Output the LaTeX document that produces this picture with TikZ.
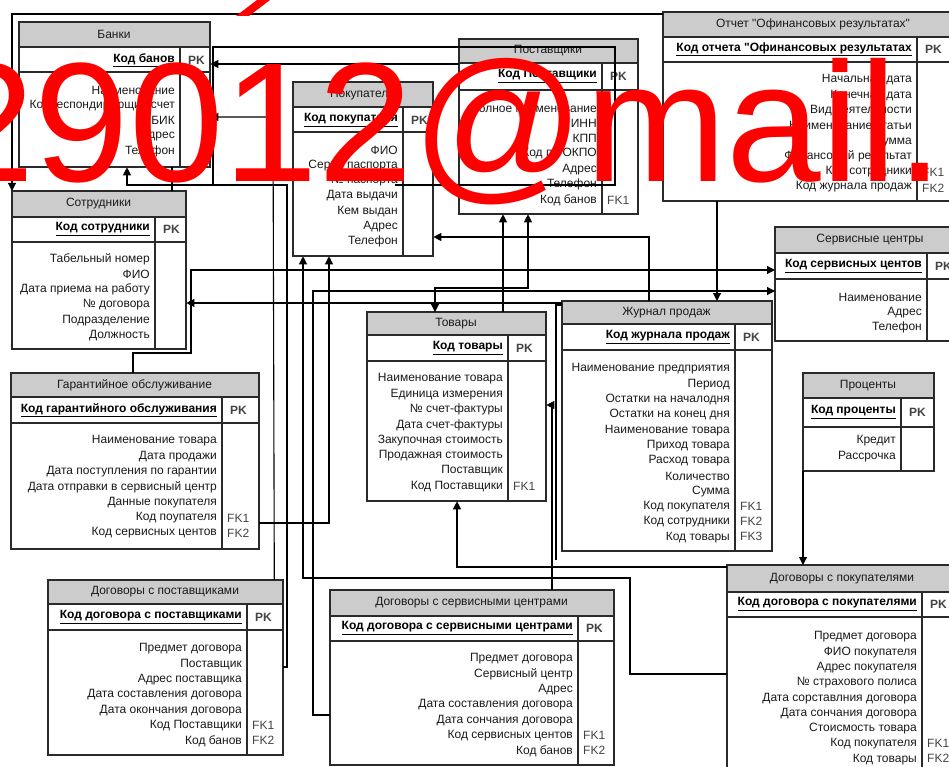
\documentclass[tikz,border=0pt]{standalone}
\usepackage{fontspec}
\setmainfont{Liberation Sans}
\usetikzlibrary{arrows.meta,calc}

\definecolor{hdrgray}{HTML}{CCCCCC}
\definecolor{framegray}{HTML}{2A2A2A}
\definecolor{markgray}{HTML}{444444}
\definecolor{txtgray}{HTML}{1A1A1A}

\tikzset{
  tbl/.style={draw=framegray, line width=1.3pt, fill=white, inner sep=0pt, anchor=north west},
  ttl/.style={font=\fontsize{12}{14}\selectfont, text=txtgray, inner sep=0pt},
  keytxt/.style={font=\bfseries\fontsize{12}{14}\selectfont, inner sep=0pt, anchor=east},
  attr/.style={font=\fontsize{12}{14}\selectfont, text=txtgray, inner sep=0pt, anchor=east},
  keymark/.style={font=\fontsize{12}{14}\selectfont, text=markgray, inner sep=0pt, anchor=west},
  rel/.style={draw, line width=1.1pt, -{Triangle[length=8pt,width=8pt]}},
  wire/.style={draw, line width=1.1pt},
}

% name, x, y, width, height, divider x, title height, key height, title
\newcommand{\ertable}[9]{%
  \node[tbl, minimum width=#4pt, minimum height=#5pt] (#1) at (#2,#3) {};
  \fill[hdrgray] (#2,#3) rectangle (#2+#4,#3+#7);
  \draw[framegray, line width=1.3pt] (#2,#3+#7) -- ++(#4,0) (#2,#3+#7+#8) -- ++(#4,0)
    (#6,#3+#7) -- (#6,#3+#5);
  \draw[framegray, line width=1.3pt] (#1.north west) rectangle (#1.south east);
  \node[ttl] (#1-t) at (#2+#4/2,#3+#7/2) {#9};
}
% name, divider x, y, key text
\newcommand{\erkey}[4]{%
  \node[keytxt] (#1-k) at (#2-5,#3) {\underline{#4}};
  \node[keymark, font=\bfseries\fontsize{12}{14}\selectfont] (#1-pk) at (#2+8,#3) {PK};
}
% name, divider x, first y, rows
\newcommand{\errows}[4]{%
  \foreach \t [count=\i from 0] in {#4}
    \node[attr] (#1-\i) at (#2-5,#3+\i*15.3) {\t};
}
% name, divider x, y, mark
\newcommand{\erfk}[4]{\node[keymark] (#1-#4) at (#2+5,#3) {#4};}

\begin{document}
\begin{tikzpicture}[x=1pt,y=-1pt]
  \useasboundingbox (0,0) rectangle (949,767);
  \clip (0,0) rectangle (949,767);

  % tables
  \ertable{bank}{19}{22}{190}{144}{180}{25}{25}{Банки}
  \erkey{bank}{180}{60}{Код банов}
  \errows{bank}{180}{90}{Наименование,Корреспондирующий счет,БИК,Адрес,Телефон}

  \ertable{pok}{293}{82}{139}{173}{403}{25}{25}{Покупатели}
  \erkey{pok}{403}{120}{Код покупателя}
  \errows{pok}{403}{150}{ФИО,Серия паспорта,№ паспорта,Дата выдачи,Кем выдан,Адрес,Телефон}

  \ertable{post}{459}{39}{178}{174}{602}{24}{27}{Поставщики}
  \erkey{post}{602}{76}{Код Поставщики}
  \errows{post}{602}{108}{Полное наименование,ИНН,КПП,Код по ОКПО,Адрес,Телефон,Код банов}
  \erfk{post}{602}{200}{FK1}

  \ertable{otchet}{663}{12}{300}{188}{917}{25}{25}{Отчет \textquotedbl Офинансовых результатах\textquotedbl}
  \erkey{otchet}{917}{49}{Код отчета \textquotedbl Офинансовых результатах}
  \errows{otchet}{917}{80}{Начальная дата,Конечная дата,Вид деятельности,Наименование статьи,Сумма,Финансовый результат,Код сотрудники,Код журнала продаж}
  \erfk{otchet}{917}{172}{FK1}
  \erfk{otchet}{917}{188}{FK2}

  \ertable{sotr}{12}{191}{173}{157}{155}{26}{25}{Сотрудники}
  \erkey{sotr}{155}{229}{Код сотрудники}
  \errows{sotr}{155}{259}{Табельный номер,ФИО,Дата приема на работу,№ договора,Подразделение,Должность}

  \ertable{serv}{775}{227}{190}{113}{927}{26}{26}{Сервисные центры}
  \erkey{serv}{927}{266}{Код сервисных центов}
  \errows{serv}{927}{297}{Наименование,Адрес,Телефон}

  \ertable{garant}{11}{373}{247}{175}{222}{24}{26}{Гарантийное обслуживание}
  \erkey{garant}{222}{410}{Код гарантийного обслуживания}
  \errows{garant}{222}{441}{Наименование товара,Дата продажи,Дата поступления по гарантии,Дата отправки в сервисный центр,Данные покупателя,Код поупателя,Код сервисных центов}
  \erfk{garant}{222}{518}{FK1}
  \erfk{garant}{222}{533}{FK2}

  \ertable{tov}{367}{312}{178}{188}{508}{23}{26}{Товары}
  \erkey{tov}{508}{348}{Код товары}
  \errows{tov}{508}{379}{Наименование товара,Единица измерения,№ счет-фактуры,Дата счет-фактуры,Закупочная стоимость,Продажная стоимость,Поставщик,Код Поставщики}
  \erfk{tov}{508}{486}{FK1}

  \ertable{jour}{562}{301}{209}{249}{735}{23}{26}{Журнал продаж}
  \erkey{jour}{735}{337}{Код журнала продаж}
  \errows{jour}{735}{369}{Наименование предприятия,Период,Остатки на началодня,Остатки на конец дня,Наименование товара,Приход товара,Расход товара,Количество,Сумма,Код покупателя,Код сотрудники,Код товары}
  \erfk{jour}{735}{506}{FK1}
  \erfk{jour}{735}{521}{FK2}
  \erfk{jour}{735}{536}{FK3}

  \ertable{proc}{803}{373}{130}{97}{901}{25}{29}{Проценты}
  \erkey{proc}{901}{412}{Код проценты}
  \errows{proc}{901}{441}{Кредит,Рассрочка}

  \ertable{dsp}{48}{580}{234}{174}{247}{24}{26}{Договоры с поставщиками}
  \erkey{dsp}{247}{617}{Код договора с поставщиками}
  \errows{dsp}{247}{649}{Предмет договора,Поставщик,Адрес поставщика,Дата составления договора,Дата окончания договора,Код Поставщики,Код банов}
  \erfk{dsp}{247}{725}{FK1}
  \erfk{dsp}{247}{740}{FK2}

  \ertable{dss}{330}{590}{283}{174}{578}{26}{25}{Договоры с сервисными центрами}
  \erkey{dss}{578}{628}{Код договора с сервисными центрами}
  \errows{dss}{578}{659}{Предмет договора,Сервисный центр,Адрес,Дата составления договора,Дата сончания договора,Код сервисных центов,Код банов}
  \erfk{dss}{578}{735}{FK1}
  \erfk{dss}{578}{750}{FK2}

  \ertable{dspok}{727}{565}{230}{215}{922}{27}{25}{Договоры с покупателями}
  \erkey{dspok}{922}{604}{Код договора с покупателями}
  \errows{dspok}{922}{637}{Предмет договора,ФИО покупателя,Адрес покупателя,№ страхового полиса,Дата сорставлния договора,Дата сончания договора,Стоисмость товара,Код покупателя,Код товары}
  \erfk{dspok}{922}{743}{FK1}
  \erfk{dspok}{922}{758}{FK2}

  % relations
  \draw[rel] ([yshift=-2pt]otchet.north west) -- (12,14) -- (sotr.north west);
  \draw[rel] ([yshift=-25pt]post.north west) -- ([yshift=-42pt]bank.north east);
  \draw[rel] ([xshift=-9pt]dsp.north east) -- (273,117) -- ([yshift=-95pt]bank.north east);
  \draw[rel] ([yshift=-87pt]dsp.north east) -- (287,667) -- (287,185) -- (127,185) -- ([xshift=108pt]bank.south west);
  \draw[wire] (213,185) -- (213,47) -- (615,47) -- (615,185) -- (395,185);
  \draw[wire] ([xshift=153pt]bank.south west) -- ([xshift=160pt]sotr.north west);
  \draw[rel] ([xshift=122pt]garant.north west) -- (133,353) -- (191,353) -- (191,270) -- ([yshift=-43pt]serv.north west);
  \draw[rel] ([yshift=-2pt]jour.north west) -- ([yshift=-112pt]sotr.north east);
  \draw[rel] ([yshift=-125pt]dss.north west) -- (313,715) -- (313,291) -- ([yshift=-64pt]serv.north west);
  \draw[rel] ([xshift=222pt]dss.north west) -- (552,405) -- ([yshift=-93pt]tov.north east);
  \draw[wire] ([yshift=-4pt]jour.north west) -- (556,305) -- (556,560);
  \draw[rel] ([xshift=87pt]jour.north west) -- (649,237) -- ([yshift=-155pt]pok.north east);
  \draw[rel] ([xshift=136pt]tov.north west) -- ([xshift=44pt]post.south west);
  \draw[{Triangle[length=8pt,width=8pt]}-{Triangle[length=8pt,width=8pt]}, line width=1.1pt]
    ([xshift=69pt]post.south west) -- (528,288) -- (435,288) -- ([xshift=68pt]tov.north west);
  \draw[rel] ([yshift=-109pt]dspok.north west) -- (630,674) -- (630,578) -- (303,578) -- ([xshift=10pt]pok.south west);
  \draw[rel] ([yshift=-150pt]garant.north east) -- (329,523) -- ([xshift=36pt]pok.south west);
  \draw[rel] ([yshift=-2pt]dspok.north west) -- (457,567) -- ([xshift=90pt]tov.south west);
  \draw[rel] (proc.south west) -- (proc.south west |- dspok.north);
  \draw[rel] ([xshift=54pt]otchet.south west) -- ([xshift=54pt]otchet.south west |- jour.north);

  % watermark
  \node[text=red, font=\fontsize{170}{170}\selectfont, inner sep=0pt, anchor=base west] (wm) at (-60,182) {29012@mail.};
  \fill[red] (236,16) -- (249,16) -- (270,0) -- (257,0) -- cycle;
\end{tikzpicture}
\end{document}
